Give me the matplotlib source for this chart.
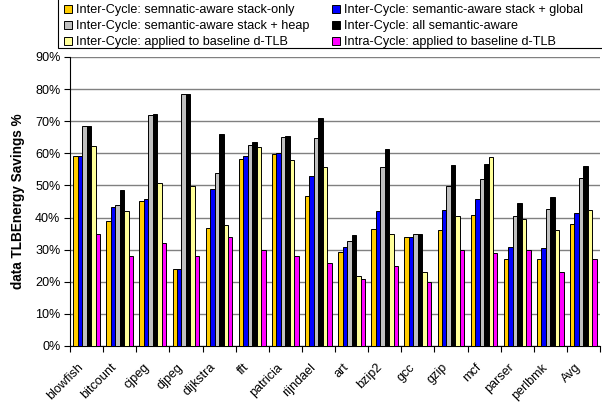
import matplotlib
matplotlib.use("Agg")
import matplotlib.pyplot as plt
import numpy as np
from matplotlib.patches import Patch, Rectangle
from matplotlib.transforms import ScaledTranslation

categories = ["blowfish", "bitcount", "cjpeg", "djpeg", "dijkstra", "fft", "patricia",
              "rijndael", "art", "bzip2", "gcc", "gzip", "mcf", "parser", "perlbmk", "Avg"]

series_names = [
    "Inter-Cycle: semnatic-aware stack-only",
    "Inter-Cycle: semantic-aware stack + global",
    "Inter-Cycle: semantic-aware stack + heap",
    "Inter-Cycle: all semantic-aware",
    "Inter-Cycle: applied to baseline d-TLB",
    "Intra-Cycle: applied to baseline d-TLB",
]

stack_only = [59.3, 39.0, 45.3, 23.9, 36.8, 58.2, 59.9, 46.6, 29.2, 36.4, 33.8, 36.0, 40.9, 27.0, 27.1, 37.9]
stack_global = [59.3, 43.4, 45.7, 23.9, 48.9, 59.1, 60.1, 52.9, 30.8, 42.1, 34.0, 42.3, 45.7, 30.9, 30.4, 41.5]
stack_heap = [68.5, 44.0, 71.9, 78.4, 53.8, 62.7, 65.1, 64.8, 32.8, 55.6, 35.0, 49.9, 52.0, 40.4, 42.8, 52.3]
all_sem = [68.5, 48.6, 72.4, 78.4, 65.9, 63.6, 65.4, 71.0, 34.5, 61.4, 35.0, 56.3, 56.7, 44.4, 46.3, 55.9]
baseline_inter = [62.4, 42.1, 50.9, 49.7, 37.8, 62.0, 57.9, 55.6, 21.7, 34.8, 23.2, 40.6, 58.8, 39.4, 36.0, 42.2]
baseline_intra = [35.0, 27.9, 32.0, 27.9, 34.0, 30.0, 27.9, 25.9, 20.9, 25.0, 20.0, 30.0, 29.0, 30.0, 22.9, 27.0]

series = [stack_only, stack_global, stack_heap, all_sem, baseline_inter, baseline_intra]
colors = ["#FFCC00", "#0000FF", "#C0C0C0", "#000000", "#FFFF99", "#FF00FF"]

plt.rcParams['font.family'] = ['Liberation Sans', 'DejaVu Sans']
FS = 9.1

fig = plt.figure(figsize=(6.02, 4.04), dpi=100)
ax = fig.add_axes([70/602, 58/404, 530/602, 289/404])

n = len(categories)
x = np.arange(n)
bw = 0.135
offsets = (np.arange(6) - 2.5) * bw
for s, c, off, name in zip(series, colors, offsets, series_names):
    ax.bar(x + off, np.array(s) / 100.0, width=bw, color=c, edgecolor="black",
           linewidth=0.7, zorder=3, label=name)

ax.set_xlim(-0.5, n - 0.5)
ax.set_ylim(0, 0.9)
ax.set_yticks(np.arange(0, 0.91, 0.1))
ax.set_yticklabels([f"{int(round(v*100))}%" for v in np.arange(0, 0.91, 0.1)], fontsize=FS)
ax.yaxis.grid(True, color="#808080", linewidth=1.0, zorder=0)
ax.set_axisbelow(True)

ax.set_xticks(x)
ax.set_xticklabels(categories, rotation=45, ha="right", va="top", rotation_mode="anchor", fontsize=FS)
ax.tick_params(axis="x", which="major", length=0, pad=11)
shift = ScaledTranslation(-9/100, 0, fig.dpi_scale_trans)
for lbl in ax.get_xticklabels():
    lbl.set_transform(lbl.get_transform() + shift)
ax.set_xticks(np.arange(-0.5, n, 1.0), minor=True)
ax.tick_params(axis="x", which="minor", length=4, width=0.8, direction="out")
ax.tick_params(axis="y", length=4, width=0.8, direction="out", pad=3)

for side in ["top", "right"]:
    ax.spines[side].set_visible(False)
ax.spines["left"].set_linewidth(0.8)
ax.spines["bottom"].set_linewidth(0.8)

ax.set_ylabel("data TLBEnergy Savings %", fontsize=9.8, fontweight="bold", labelpad=7)

# legend frame (extends beyond the top and right edges)
fig.patches.append(Rectangle((58/602, (404-48)/404), 1.0, 0.2, transform=fig.transFigure,
                             facecolor="white", edgecolor="black", linewidth=0.8, zorder=1))

handles = [Patch(facecolor=c, edgecolor="black", linewidth=0.7) for c in colors]
order = [0, 2, 4, 1, 3, 5]
leg = fig.legend([handles[i] for i in order], [series_names[i] for i in order],
                 loc="upper left", bbox_to_anchor=(64/602, 1.0 - 4/404), ncol=2,
                 fontsize=FS, frameon=False,
                 handlelength=0.6, handleheight=0.6, handletextpad=0.35,
                 columnspacing=1.8, labelspacing=0.33, borderpad=0, borderaxespad=0)
leg.set_zorder(2)

fig.savefig("out.png", dpi=100)
